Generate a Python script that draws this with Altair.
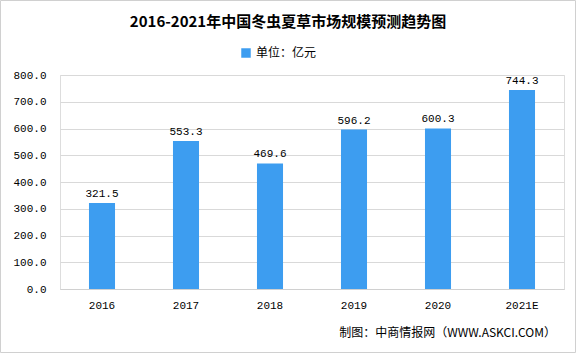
import altair as alt
import pandas as pd

years = ["2016", "2017", "2018", "2019", "2020", "2021E"]
values = [321.5, 553.3, 469.6, 596.2, 600.3, 744.3]
y_ticks = [0, 100, 200, 300, 400, 500, 600, 700, 800]
series_name = "单位：亿元"
title_text = "2016-2021年中国冬虫夏草市场规模预测趋势图"
source_text = "制图：中商情报网（WWW.ASKCI.COM）"

df = pd.DataFrame({"year": years, "value": values, "series": [series_name] * len(years)})

base = alt.Chart(df)

x_enc = alt.X("year:N", sort=years, title=None,
              scale=alt.Scale(paddingInner=0.69, paddingOuter=0.345),
              axis=alt.Axis(labelAngle=0, ticks=False, domainColor="#d0d0d0",
                            labelFont="Liberation Mono", labelFontSize=11,
                            labelColor="#000000", labelPadding=10))
y_enc = alt.Y("value:Q", title=None,
              scale=alt.Scale(domain=[0, 800]),
              axis=alt.Axis(values=y_ticks, tickCount=9,
                            format=".1f", domain=False, ticks=False, labelOverlap=False,
                            gridColor="#d9d9d9", labelFont="Liberation Mono",
                            labelFontSize=11, labelColor="#000000", labelPadding=14))

bars = base.mark_bar(color="#3d9df0").encode(
    x=x_enc,
    y=y_enc,
    color=alt.Color("series:N", scale=alt.Scale(range=["#3d9df0"]),
                    legend=alt.Legend(title=None, orient="none", legendX=180, legendY=-28,
                                      symbolType="square", symbolSize=90,
                                      labelFont="Noto Sans CJK SC", labelFontSize=12,
                                      labelColor="#000000")),
)

labels = base.mark_text(dy=-9, font="Liberation Mono", fontSize=11, color="#000000").encode(
    x=x_enc,
    y=y_enc,
    text=alt.Text("value:Q", format=".1f"),
)

ttl = pd.DataFrame({"t": [title_text]})
title = alt.Chart(ttl).mark_text(align="center", baseline="middle", font="Noto Sans CJK SC",
                                 fontSize=15, fontWeight="bold", color="#000000").encode(
    x=alt.value(228), y=alt.value(-53), text="t:N")

src = pd.DataFrame({"t": [source_text]})
footer = alt.Chart(src).mark_text(align="right", baseline="middle",
                                  font="Noto Sans CJK SC", fontSize=12, color="#000000").encode(
    x=alt.value(496), y=alt.value(258), text="t:N")

border = alt.Chart(src).mark_rect(fill=None, stroke="#d0d0d0", strokeWidth=1).encode(
    x=alt.value(-59.5), x2=alt.value(515.5), y=alt.value(-74.5), y2=alt.value(277.5))

chart = alt.layer(bars, labels, title, footer, border).properties(
    width=504, height=214,
    autosize=alt.AutoSizeParams(type="none"),
    padding={"left": 60, "top": 75, "right": 12, "bottom": 64},
).configure_view(stroke=None).configure(background="white")

chart.save("out.html", embed_options={"renderer": "svg", "actions": False})
